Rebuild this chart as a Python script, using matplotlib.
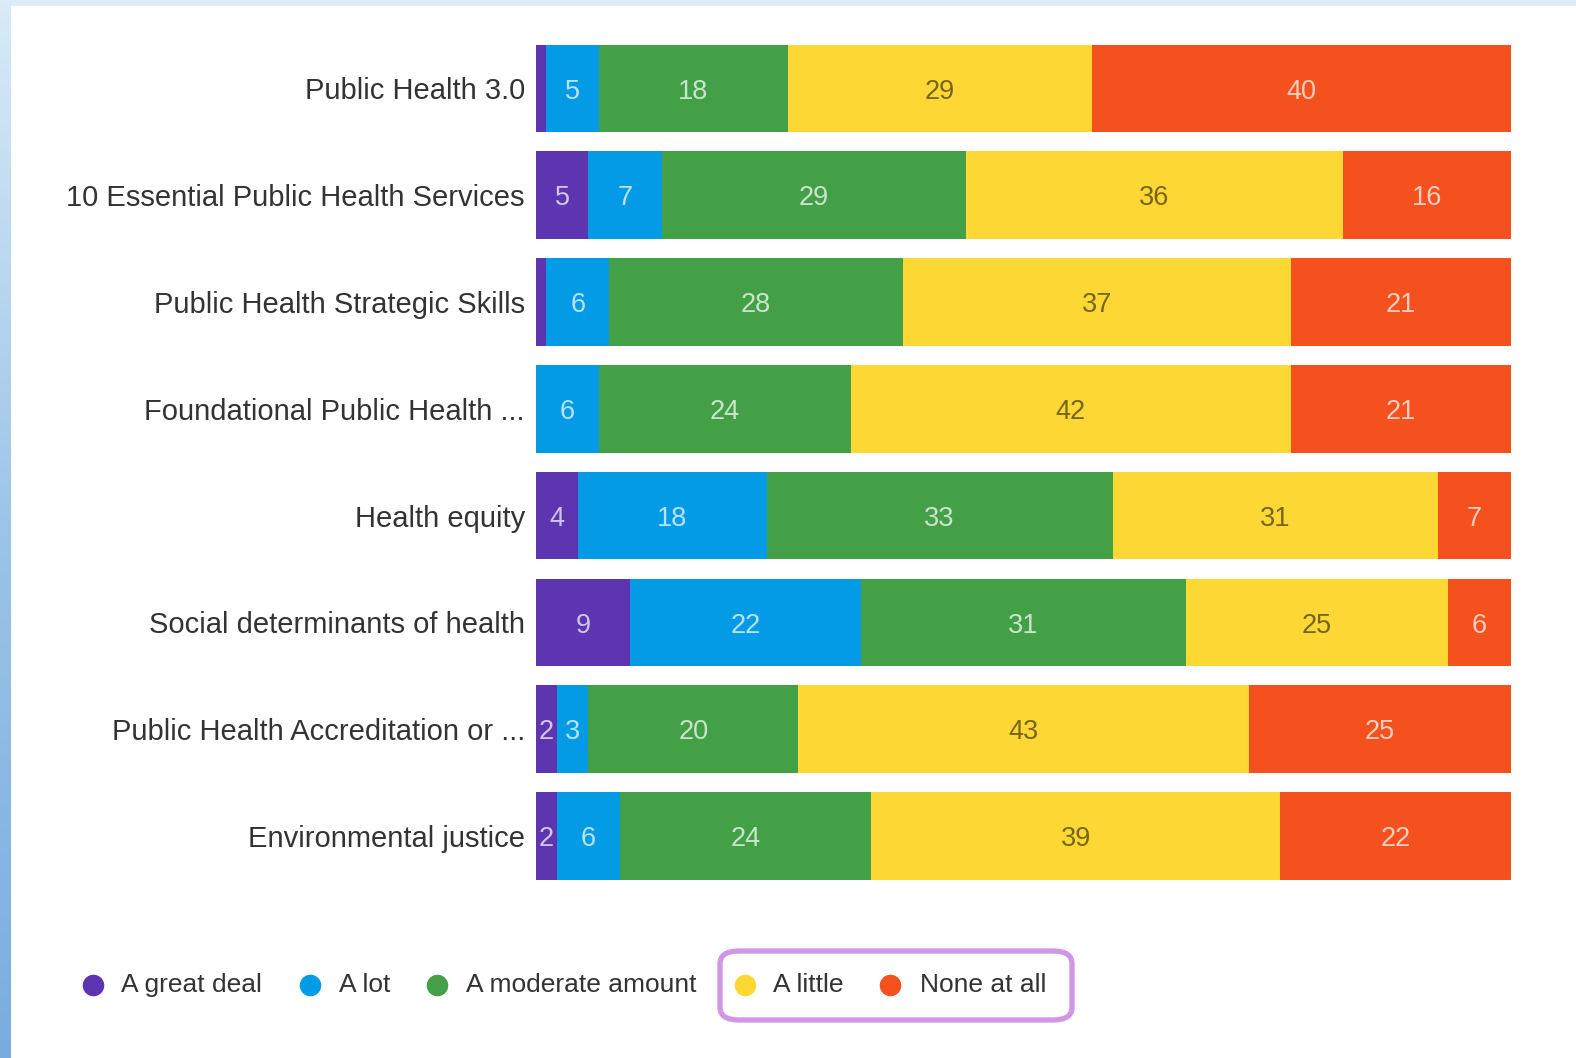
import numpy as np
import matplotlib
matplotlib.use("Agg")
import matplotlib.pyplot as plt
from matplotlib.patches import FancyBboxPatch
from matplotlib.lines import Line2D
from matplotlib.colors import LinearSegmentedColormap

plt.rcParams['font.family'] = ['Liberation Sans', 'DejaVu Sans']

categories = [
    "Public Health 3.0",
    "10 Essential Public Health Services",
    "Public Health Strategic Skills",
    "Foundational Public Health ...",
    "Health equity",
    "Social determinants of health",
    "Public Health Accreditation or ...",
    "Environmental justice",
]
series_names = ["A great deal", "A lot", "A moderate amount", "A little", "None at all"]
great_deal = [1, 5, 1, 0, 4, 9, 2, 2]
a_lot = [5, 7, 6, 6, 18, 22, 3, 6]
moderate = [18, 29, 28, 24, 33, 31, 20, 24]
a_little = [29, 36, 37, 42, 31, 25, 43, 39]
none_at_all = [40, 16, 21, 21, 7, 6, 25, 22]

colors = ["#5e35b1", "#039be5", "#43a047", "#fdd835", "#f4511e"]
label_colors = [(1, 1, 1, 0.72), (1, 1, 1, 0.72), (1, 1, 1, 0.72),
                (0.15, 0.12, 0.0, 0.62), (1, 1, 1, 0.72)]

W, H = 1576, 1058
fig = plt.figure(figsize=(W / 100, H / 100), dpi=100)
fig.patch.set_facecolor("white")

# Card frame: pale band on top, blue gradient strip on the left
top_ax = fig.add_axes([0, 1 - 6 / H, 1, 6 / H])
top_ax.set_axis_off()
top_ax.add_patch(plt.Rectangle((0, 0), 1, 1, color="#dcedf7", transform=top_ax.transAxes))

left_ax = fig.add_axes([0, 0, 11 / W, 1])
grad = np.linspace(0, 1, 256).reshape(-1, 1)
cmap = LinearSegmentedColormap.from_list("edge", ["#d8ebf6", "#9cc4e8", "#79ade0"])
left_ax.imshow(grad, aspect="auto", cmap=cmap, extent=[0, 1, 0, 1], origin="upper")
left_ax.set_axis_off()

# Main stacked bar axes
ax = fig.add_axes([536 / W, 1 - 889.5 / H, (1511 - 536) / W, (889.5 - 35) / H])
ax.set_facecolor("white")

data = np.array([great_deal, a_lot, moderate, a_little, none_at_all], dtype=float)
totals = data.sum(axis=0)
shares = data / totals * 100
y = np.arange(len(categories))
left = np.zeros(len(categories))
for i, name in enumerate(series_names):
    ax.barh(y, shares[i], left=left, height=0.82, color=colors[i], edgecolor="none", label=name)
    for j in range(len(categories)):
        v = data[i, j]
        if v >= 2:
            ax.text(left[j] + shares[i, j] / 2, y[j] + 0.03, f"{int(v)}", ha="center", va="center",
                    fontsize=19.5, color=label_colors[i])
    left += shares[i]

ax.set_xlim(0, 100)
ax.set_ylim(len(categories) - 0.5, -0.5)
ax.set_yticks(y)
ax.set_yticklabels(categories, fontsize=21, color="#333333")
ax.tick_params(axis="y", length=0, pad=8)
ax.set_xticks([])
for s in ax.spines.values():
    s.set_visible(False)

# Legend row drawn in figure pixels
leg_y = 1 - 985 / H
marker_x = [92.5, 309.5, 437, 744.5, 890.5]
text_x = [121, 339, 466, 773, 920]
for mx, tx, c, name in zip(marker_x, text_x, colors, series_names):
    fig.add_artist(Line2D([mx / W], [leg_y], marker="o", markersize=14.5, color=c,
                          markeredgecolor=c, linestyle="none", transform=fig.transFigure))
    fig.text(tx / W, leg_y, name, ha="left", va="center", fontsize=19, color="#333333")

# Highlight box around the last two legend entries
box = FancyBboxPatch((720 / W, 1 - 1020 / H), (1072 - 720) / W, (1020 - 951) / H,
                     boxstyle="round,pad=0,rounding_size=0.012",
                     transform=fig.transFigure, fill=False, edgecolor="#cf97e6", linewidth=3.8)
fig.add_artist(box)

fig.savefig("out.png", dpi=100, facecolor="white")
